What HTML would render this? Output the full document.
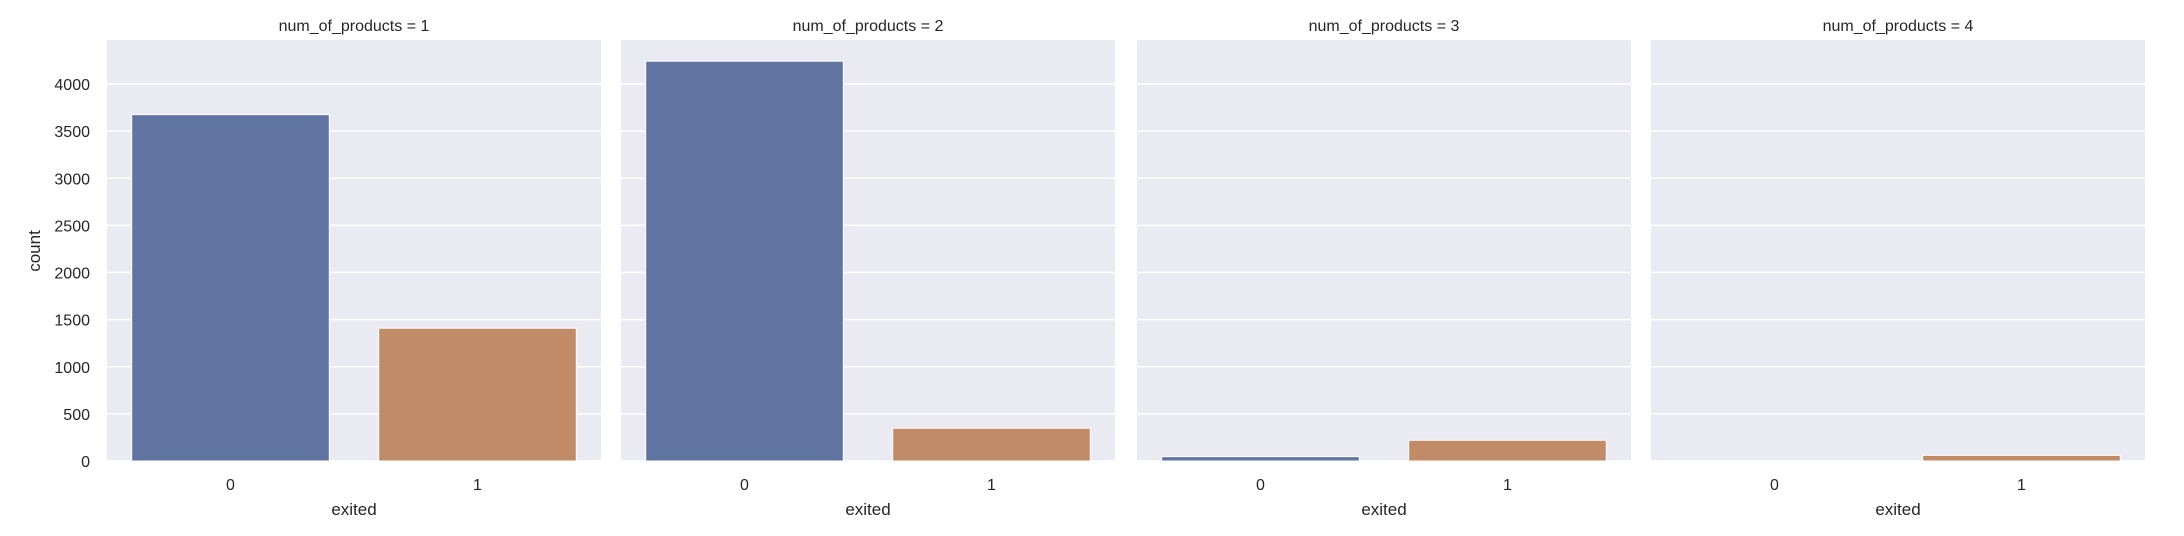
<!DOCTYPE html>
<html><head><meta charset="utf-8"><style>
body{margin:0;background:#fff;}
svg{display:block;font-family:"Liberation Sans",sans-serif;}
</style></head><body>
<svg id="chart" width="2184" height="536" xmlns="http://www.w3.org/2000/svg"></svg>
<script>
const facets = ["1","2","3","4"];
const categories = ["0","1"];
const countsExited0 = [3675, 4242, 46, 0];
const countsExited1 = [1409, 348, 220, 60];
const yTicks = [0,500,1000,1500,2000,2500,3000,3500,4000];
const colors = ["#5f74a0","#c28b67"];
const NS="http://www.w3.org/2000/svg";
const svgEl=document.getElementById('chart');
const panelLeft=[107,621,1137,1651], panelW=494, plotTop=40, plotBottom=461, yMax=4467;
function yScale(v){return plotBottom-(v/yMax)*(plotBottom-plotTop);}
function mk(tag,attrs,parent){const e=document.createElementNS(NS,tag);for(const k in attrs)e.setAttribute(k,attrs[k]);(parent||svgEl).appendChild(e);return e;}
facets.forEach((f,i)=>{
  const x0=panelLeft[i];
  const g=mk('g',{});
  
  
  const bg=mk('rect',{x:x0,y:plotTop,width:panelW,height:plotBottom-plotTop,fill:'#eaeaf2'},g);
  
  
  yTicks.forEach(t=>{
    const l=mk('line',{x1:x0,x2:x0+panelW,y1:yScale(t),y2:yScale(t),stroke:'#fff','stroke-width':1.5},g);
    
    
    if(i===0){
      const tx=mk('text',{x:90,y:yScale(t)+6,'text-anchor':'end','font-size':16,fill:'#262626'},g);
      tx.textContent=t;
      
      
    }
  });
  const band=panelW/categories.length;
  const vals=[countsExited0[i],countsExited1[i]];
  categories.forEach((c,j)=>{
    const cx=x0+band*(j+0.5), bw=band*0.8;
    const r=mk('rect',{x:cx-bw/2,y:yScale(vals[j]),width:bw,height:plotBottom-yScale(vals[j]),fill:colors[j],stroke:'#fff','stroke-width':1},g);
    
    
    const tl=mk('text',{x:cx,y:plotBottom+29,'text-anchor':'middle','font-size':16,fill:'#262626'},g);
    tl.textContent=c;
    
    
  });
  const xl=mk('text',{x:x0+panelW/2,y:515,'text-anchor':'middle','font-size':17,fill:'#262626'},g);
  xl.textContent='exited';
  
  
  const tt=mk('text',{x:x0+panelW/2,y:31,'text-anchor':'middle','font-size':16,fill:'#262626'},g);
  tt.textContent='num_of_products = '+f;
  
  
});
const yl=mk('text',{x:0,y:0,'text-anchor':'middle','font-size':17,fill:'#262626',transform:'translate(40,251) rotate(-90)'});
yl.textContent='count';


</script>
</body></html>
